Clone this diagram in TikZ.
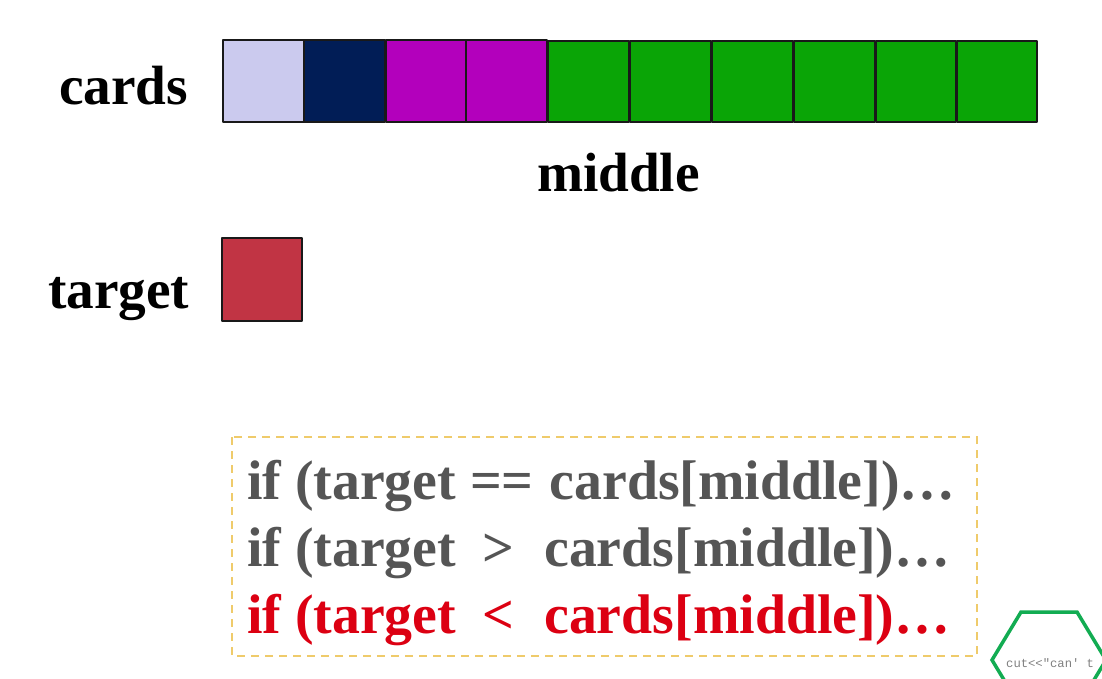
\documentclass[tikz,border=0pt]{standalone}
\usepackage{fontspec}
\setmainfont{Liberation Serif}
\setmonofont{Liberation Mono}
\definecolor{celllav}{HTML}{CBCAEE}
\definecolor{cellnavy}{HTML}{011D56}
\definecolor{cellpurple}{HTML}{B300BC}
\definecolor{cellgreen}{HTML}{0AA506}
\definecolor{cellred}{HTML}{C13444}
\definecolor{codegray}{HTML}{555555}
\definecolor{codered}{HTML}{DC0012}
\definecolor{boxgold}{HTML}{EFCB6B}
\definecolor{hexgreen}{HTML}{12AC52}
\tikzset{
  x=1pt,y=-1pt,
  cell/.style={draw=black!90,line width=1.8pt,line join=round},
  label/.style={anchor=base west,inner sep=0pt,outer sep=0pt,font=\bfseries\fontsize{55.3}{55.3}\selectfont,text=black},
  codeline/.style={anchor=base west,inner sep=0pt,outer sep=0pt,font=\bfseries\fontsize{55.8}{55.8}\selectfont},
}
\begin{document}
\begin{tikzpicture}
\useasboundingbox (0,0) rectangle (1102,678);
\clip (0,0) rectangle (1102,678);
\fill[white] (0,0) rectangle (1102,678);
\draw[cell,fill=celllav] (223,40) rectangle (304,122);
\draw[cell,fill=cellnavy] (304,40) rectangle (385,122);
\draw[cell,fill=cellpurple] (386,40) rectangle (466,122);
\draw[cell,fill=cellpurple] (466,40) rectangle (547,122);
\draw[cell,fill=cellgreen] (548,41) rectangle (629,122);
\draw[cell,fill=cellgreen] (630,41) rectangle (711,122);
\draw[cell,fill=cellgreen] (712,41) rectangle (793,122);
\draw[cell,fill=cellgreen] (794,41) rectangle (875,122);
\draw[cell,fill=cellgreen] (876,41) rectangle (956,122);
\draw[cell,fill=cellgreen] (957,41) rectangle (1037,122);
\draw[cell,fill=cellred] (222,238) rectangle (302,321);
\node[label] (cards) at (59,104) {cards};
\node[label] (middle) at (537,191.5) {middle};
\node[label] (target) at (48,308) {target};
\draw[boxgold,line width=2.4pt,dash pattern=on 8pt off 6pt] (232,437) rectangle (977,656);
\node[codeline,text=codegray] (l1) at (247,499) {if (target == \hspace{2pt}cards[middle])…};
\node[codeline,text=codegray] (l2) at (247,566) {if (target\hspace{12.5pt} >\hspace{16pt} cards[middle])…};
\node[codeline,text=codered] (l3) at (247,633) {if (target\hspace{12.5pt} <\hspace{16pt} cards[middle])…};
\draw[hexgreen,line width=3.5pt,line join=miter] (992,660) -- (1021,612) -- (1077,612) -- (1106,660) -- (1077,708) -- (1021,708) -- cycle;
\node[anchor=base west,inner sep=0pt,font=\ttfamily\fontsize{12.2}{12.2}\selectfont,text=black!50] (hextext) at (1006,667) {cut<<"can' t};
\end{tikzpicture}
\end{document}
